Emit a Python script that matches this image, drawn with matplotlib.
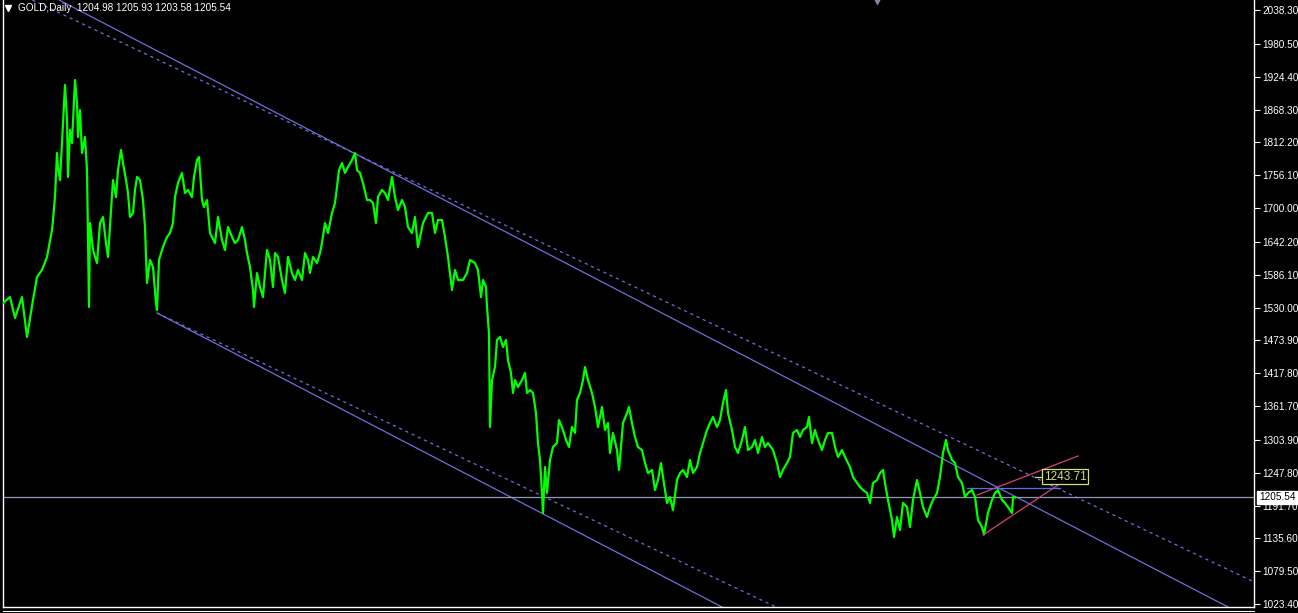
import matplotlib
matplotlib.use("Agg")
import matplotlib.pyplot as plt
from matplotlib.lines import Line2D

plt.rcParams['font.family'] = ['Liberation Sans', 'DejaVu Sans']

# daily closes (bar index, price)
bars = [3, 10, 15, 22, 27, 33, 37, 42, 47, 52, 53, 55, 57, 58, 60, 62, 65, 67, 68, 70,
        72, 75, 77, 78, 80, 82, 85, 87, 89, 90, 93, 97, 100, 103, 106, 108, 111, 113, 116, 118,
        121, 123, 126, 128, 130, 133, 135, 137, 140, 143, 145, 147, 150, 153, 156, 157, 159, 163, 167, 170,
        173, 175, 178, 182, 185, 188, 192, 194, 197, 199, 202, 204, 207, 210, 215, 218, 222, 225, 228, 232,
        235, 238, 242, 245, 247, 250, 253, 254, 257, 260, 263, 267, 270, 273, 275, 278, 282, 285, 288, 292,
        295, 298, 302, 305, 308, 310, 313, 317, 320, 322, 325, 328, 332, 335, 337, 339, 342, 345, 348, 352,
        355, 357, 360, 363, 367, 370, 373, 376, 378, 382, 385, 388, 392, 395, 398, 402, 405, 408, 412, 415,
        418, 423, 428, 432, 435, 438, 442, 445, 448, 452, 455, 458, 463, 467, 470, 475, 478, 481, 483, 486,
        487, 489, 490, 492, 495, 497, 500, 503, 506, 508, 511, 513, 515, 518, 522, 525, 527, 530, 533, 536,
        538, 540, 542, 543, 545, 547, 550, 553, 557, 559, 563, 566, 569, 572, 575, 577, 580, 583, 585, 588,
        592, 595, 598, 602, 605, 608, 610, 613, 617, 619, 623, 627, 629, 632, 635, 638, 642, 645, 648, 652,
        655, 658, 661, 663, 667, 670, 673, 677, 680, 683, 687, 690, 693, 697, 700, 703, 707, 710, 713, 717,
        720, 723, 726, 728, 732, 735, 738, 742, 745, 748, 752, 755, 758, 762, 765, 768, 773, 777, 780, 783,
        787, 790, 793, 797, 800, 803, 807, 809, 812, 815, 818, 822, 825, 828, 832, 835, 838, 842, 845, 848,
        850, 853, 857, 860, 863, 867, 870, 873, 877, 880, 883, 885, 888, 892, 894, 897, 900, 903, 907, 910,
        913, 917, 920, 923, 927, 930, 933, 937, 940, 943, 946, 948, 952, 955, 958, 962, 965, 968, 972, 975,
        978, 982, 984, 988, 992, 995, 998, 1002, 1005, 1008, 1012, 1013, 1015]
closes = [1537.7, 1547.9, 1512.1, 1547.9, 1479.6, 1542.8, 1582.1, 1594.1, 1616.3, 1662.4, 1679.5, 1718.8, 1794.0, 1770.1, 1747.8, 1811.1, 1910.2, 1850.4, 1753.0, 1833.3,
          1811.1, 1918.7, 1879.4, 1821.3, 1867.4, 1794.0, 1821.3, 1764.9, 1530.9, 1674.4, 1628.2, 1606.0, 1674.4, 1684.6, 1640.2, 1616.3, 1696.6, 1747.8, 1718.8, 1764.9,
          1799.1, 1776.9, 1747.8, 1725.6, 1684.6, 1691.5, 1730.8, 1753.0, 1747.8, 1713.7, 1667.5, 1571.9, 1611.2, 1599.2, 1537.7, 1525.7, 1611.2, 1633.4, 1650.5, 1657.3,
          1674.4, 1718.8, 1742.7, 1759.8, 1725.6, 1730.8, 1718.8, 1753.0, 1782.0, 1787.1, 1713.7, 1701.7, 1713.7, 1657.3, 1640.2, 1684.6, 1645.3, 1628.2, 1667.5, 1650.5,
          1640.2, 1645.3, 1667.5, 1645.3, 1623.1, 1599.2, 1559.9, 1530.9, 1588.9, 1565.0, 1547.9, 1628.2, 1611.2, 1565.0, 1623.1, 1616.3, 1577.0, 1554.8, 1616.3, 1588.9,
          1577.0, 1594.1, 1577.0, 1623.1, 1611.2, 1588.9, 1616.3, 1606.0, 1623.1, 1640.2, 1674.4, 1657.3, 1691.5, 1708.5, 1735.9, 1764.9, 1776.9, 1759.8, 1770.1, 1782.0,
          1794.0, 1764.9, 1759.8, 1742.7, 1713.7, 1713.7, 1708.5, 1674.4, 1718.8, 1730.8, 1725.6, 1713.7, 1753.0, 1718.8, 1696.6, 1713.7, 1701.7, 1667.5, 1657.3, 1684.6,
          1633.4, 1674.4, 1691.5, 1691.5, 1657.3, 1679.5, 1679.5, 1650.5, 1616.3, 1559.9, 1594.1, 1577.0, 1577.0, 1588.9, 1611.2, 1606.0, 1594.1, 1547.9, 1577.0, 1565.0,
          1530.9, 1486.4, 1325.8, 1406.1, 1428.3, 1474.5, 1479.6, 1462.5, 1474.5, 1440.3, 1418.1, 1383.9, 1406.1, 1394.2, 1406.1, 1418.1, 1383.9, 1389.0, 1383.9, 1349.7,
          1298.5, 1269.4, 1213.1, 1178.9, 1257.5, 1213.1, 1269.4, 1291.7, 1298.5, 1337.8, 1320.7, 1303.6, 1291.7, 1325.8, 1315.6, 1372.0, 1383.9, 1406.1, 1428.3, 1406.1,
          1383.9, 1360.0, 1325.8, 1360.0, 1320.7, 1332.7, 1281.4, 1315.6, 1286.5, 1252.4, 1332.7, 1349.7, 1360.0, 1332.7, 1308.7, 1291.7, 1286.5, 1264.3, 1247.2, 1252.4,
          1218.2, 1235.3, 1264.3, 1240.4, 1196.0, 1206.2, 1184.0, 1235.3, 1247.2, 1252.4, 1240.4, 1269.4, 1247.2, 1257.5, 1281.4, 1298.5, 1320.7, 1332.7, 1342.9, 1325.8,
          1337.8, 1366.8, 1389.0, 1349.7, 1320.7, 1291.7, 1281.4, 1303.6, 1325.8, 1286.5, 1291.7, 1303.6, 1281.4, 1308.7, 1291.7, 1298.5, 1286.5, 1264.3, 1240.4, 1252.4,
          1264.3, 1274.6, 1315.6, 1320.7, 1308.7, 1320.7, 1325.8, 1342.9, 1298.5, 1320.7, 1303.6, 1286.5, 1303.6, 1315.6, 1315.6, 1291.7, 1274.6, 1286.5, 1274.6, 1264.3,
          1257.5, 1240.4, 1230.1, 1223.3, 1218.2, 1213.1, 1196.0, 1230.1, 1235.3, 1247.2, 1252.4, 1230.1, 1201.1, 1166.9, 1137.9, 1172.0, 1149.8, 1196.0, 1189.1, 1155.0,
          1201.1, 1235.3, 1213.1, 1189.1, 1172.0, 1189.1, 1201.1, 1213.1, 1240.4, 1281.4, 1303.6, 1286.5, 1269.4, 1264.3, 1240.4, 1230.1, 1206.2, 1213.1, 1218.2, 1206.2,
          1166.9, 1155.0, 1142.0, 1178.9, 1201.1, 1213.1, 1218.2, 1201.1, 1196.0, 1189.1, 1178.9, 1206.2, 1205.54]

# quote header
symbol = "GOLD,Daily"
ohlc = [1204.98, 1205.93, 1203.58, 1205.54]
bid = 1205.54

# price scale labels
yticks = [2038.30, 1980.50, 1924.40, 1868.30, 1812.20, 1756.10, 1700.00, 1642.20, 1586.10,
          1530.00, 1473.90, 1417.80, 1361.70, 1303.90, 1247.80, 1191.70, 1135.60, 1079.50, 1023.40]

# trend objects: (bar1, price1, bar2, price2)
upper_solid = (63, 2052.0, 1228, 1018.3)
lower_solid = (157, 1520.6, 722, 1018.3)
upper_dash = (43, 2046.8, 1250, 1064.4)
lower_dash = (157, 1520.6, 776, 1018.3)
red_low = (983, 1141.3, 1070, 1240.4)
red_high = (977, 1209.6, 1078, 1276.3)
hline = (967, 1060, 1221.6)
label_price = 1243.71
label_pos = (1065, 1241.2)

fig = plt.figure(figsize=(12.98, 6.13), dpi=100, facecolor='black')
ax = fig.add_axes([3/1298, 6/613, 1251/1298, 607/613])
ax.set_facecolor('black')
ax.set_xlim(3, 1254)
ax.set_ylim(1018.3, 2055.4)

chan_col = '#6e6ee0'
def slope(t):
    return (t[3] - t[1]) / (t[2] - t[0])

ax.axline((upper_solid[0], upper_solid[1]), slope=slope(upper_solid), color=chan_col, lw=0.9)
ax.plot([lower_solid[0], lower_solid[2]], [lower_solid[1], lower_solid[3]], color=chan_col, lw=0.9)
ax.axline((upper_dash[0], upper_dash[1]), slope=slope(upper_dash), color=chan_col, lw=0.9,
          linestyle=(0, (2.5, 3)))
ax.plot([lower_dash[0], lower_dash[2]], [lower_dash[1], lower_dash[3]], color=chan_col, lw=0.9,
        linestyle=(0, (2.5, 3)))

ax.axhline(bid, color='#9098b4', lw=0.9)

ax.plot(bars, closes, color='#00ff00', lw=1.6, zorder=5)

red = '#d8407a'
ax.plot([red_low[0], red_low[2]], [red_low[1], red_low[3]], color=red, lw=0.9, zorder=6)
ax.plot([red_high[0], red_high[2]], [red_high[1], red_high[3]], color=red, lw=0.9, zorder=6)
ax.plot([hline[0], hline[1]], [hline[2], hline[2]], color='#5b6ee8', lw=0.9, zorder=6)

lab_col = '#cfe07a'
ax.plot([label_pos[0] - 30, label_pos[0] - 21], [label_pos[1], label_pos[1]], color=lab_col, lw=0.9, zorder=7)
ax.text(label_pos[0], label_pos[1], f"{label_price:.2f}", color=lab_col, fontsize=8.5,
        ha='center', va='center', zorder=8,
        bbox=dict(boxstyle='square,pad=0.12', facecolor='black', edgecolor=lab_col, lw=0.9))

# shift marker at the top
ax.plot([877], [1.0], marker='v', ms=6, color='#7a8a9a', transform=ax.get_xaxis_transform(),
        clip_on=False, zorder=9)

ax.yaxis.tick_right()
ax.set_yticks(yticks)
ax.set_yticklabels([f"{v:.2f}" for v in yticks])
ax.tick_params(axis='y', colors='white', labelcolor='white', length=4, width=0.8,
               labelsize=7.2, pad=2)
ax.set_xticks([])
for s in ['left', 'right', 'bottom']:
    ax.spines[s].set_color('white')
    ax.spines[s].set_linewidth(1)
ax.spines['top'].set_visible(False)

ax.annotate(f"{bid:.2f}", xy=(1, bid), xycoords=('axes fraction', 'data'),
            xytext=(3.5, 0), textcoords='offset points', ha='left', va='center',
            fontsize=7.2, color='black', zorder=10,
            bbox=dict(boxstyle='square,pad=0.15', facecolor='white', edgecolor='white'))

# header
fig.add_artist(Line2D([8/1298], [1 - 8/613], marker='v', ms=4.5, color='white'))
fig.text(18/1298, 1 - 8/613, symbol + "  " + " ".join(f"{v:.2f}" for v in ohlc),
         color='white', fontsize=7.2, va='center', ha='left')

fig.add_artist(Line2D([3/1298, 1254/1298], [2/613, 2/613], color='white', lw=0.8))

fig.savefig('out.png', dpi=100, facecolor='black')
